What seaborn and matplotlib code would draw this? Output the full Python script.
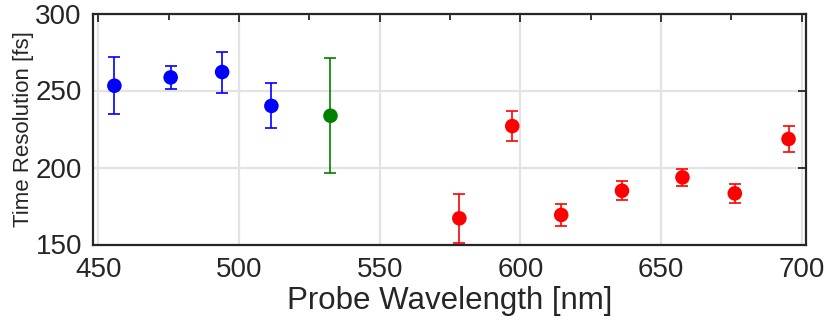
import numpy as np
import pandas as pd
import seaborn as sns
import matplotlib.pyplot as plt

# probe wavelengths [nm], time resolution [fs], error [fs]
wavelength = [455.7, 475.7, 494.0, 511.5, 532.5, 578.3, 597.1, 614.5, 636.1, 657.6, 676.2, 695.3]
resolution = [253.1, 258.5, 262.0, 240.0, 233.6, 167.0, 226.9, 169.2, 184.9, 193.6, 183.2, 218.5]
error = [18.5, 7.5, 13.3, 14.6, 37.4, 16.0, 9.5, 6.9, 6.2, 5.7, 6.3, 8.5]
group = ['blue'] * 4 + ['green'] + ['red'] * 7

palette = {'blue': '#0000ff', 'green': '#008000', 'red': '#ff0000'}

df = pd.DataFrame({'wavelength': wavelength, 'resolution': resolution,
                   'error': error, 'group': group})

sns.set_style('white')
plt.rcParams['font.family'] = ['Liberation Sans', 'DejaVu Sans']

fig, ax = plt.subplots(figsize=(8.3, 3.34), dpi=100)

# error bars first, markers on top
for g, sub in df.groupby('group'):
    ax.errorbar(sub['wavelength'], sub['resolution'], yerr=sub['error'],
                fmt='none', ecolor=palette[g], elinewidth=1.2, capsize=4.5,
                capthick=1.2, zorder=2)

sns.scatterplot(data=df, x='wavelength', y='resolution', hue='group',
                palette=palette, s=110, edgecolor='none', legend=False,
                ax=ax, zorder=3)

ax.set_xlim(448.1, 701.5)
ax.set_ylim(150, 300)
ax.set_xticks([450, 500, 550, 600, 650, 700])
ax.set_xticks(np.arange(475, 700, 50), minor=True)
ax.set_yticks([150, 200, 250, 300])

ax.grid(True, which='major', color='#e3e3e3', linewidth=1.6)
ax.set_axisbelow(True)

ax.tick_params(which='both', direction='in', top=True, right=True,
               color='#262626', width=1.3, labelsize=20)
ax.tick_params(axis='x', pad=9)
ax.tick_params(axis='y', pad=8)
ax.tick_params(which='major', length=6)
ax.tick_params(which='minor', length=4)
for s in ax.spines.values():
    s.set_color('#262626')
    s.set_linewidth(1.6)

ax.set_xlabel('Probe Wavelength [nm]', fontsize=22.5, color='#262626', labelpad=2)
ax.set_ylabel('Time Resolution [fs]', fontsize=16, color='#262626', labelpad=1)
for lab in ax.get_xticklabels() + ax.get_yticklabels():
    lab.set_color('#262626')

fig.subplots_adjust(left=93 / 830, right=806 / 830, top=1 - 13.5 / 334, bottom=1 - 244.5 / 334)
fig.savefig('out.png', dpi=100)
